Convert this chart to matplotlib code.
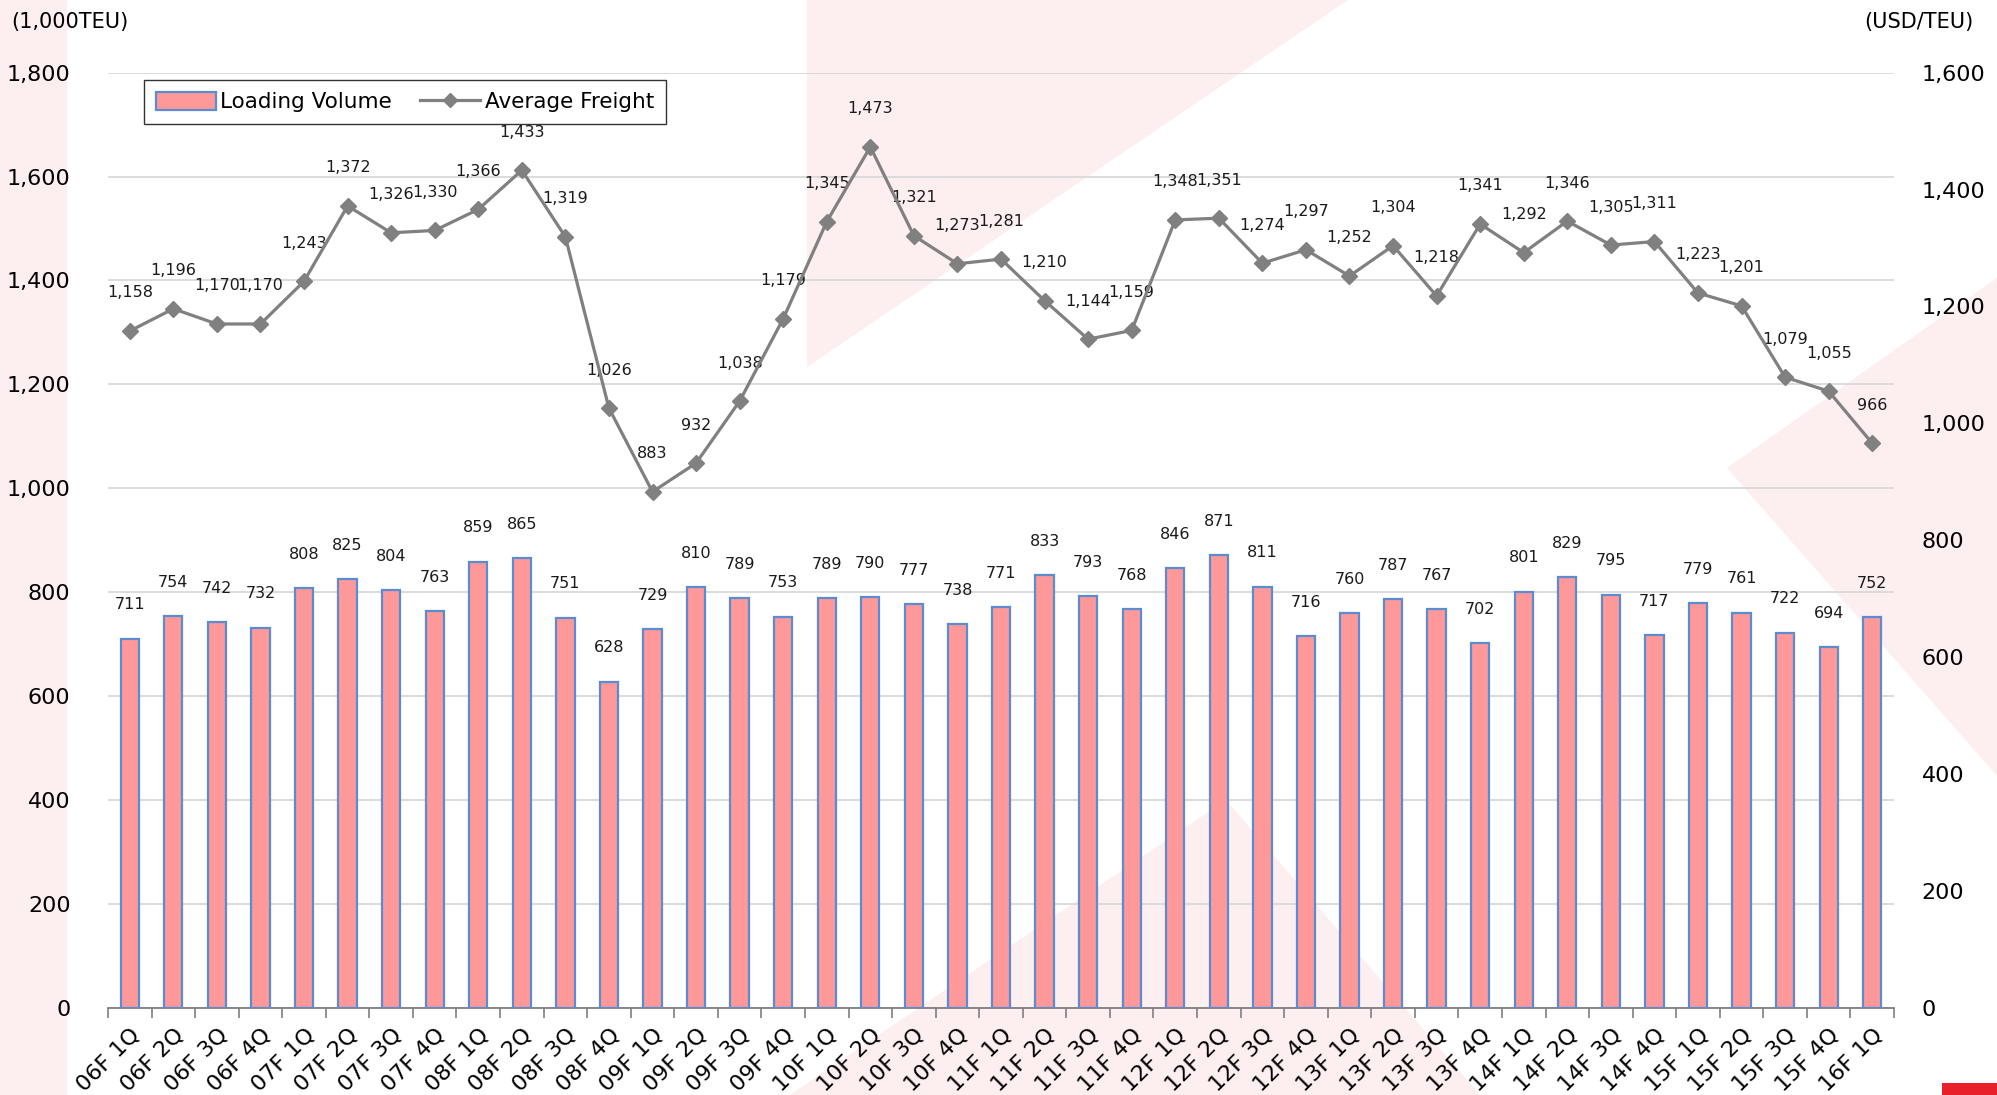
import numpy as np
import matplotlib
matplotlib.use("Agg")
import matplotlib.pyplot as plt
from matplotlib.patches import Polygon, Rectangle
from matplotlib.lines import Line2D
from matplotlib.patches import Patch

# quarters 06F 1Q .. 16F 1Q
quarters = []
for yr in range(6, 16):
    for q in range(1, 5):
        quarters.append("%02dF %dQ" % (yr, q))
quarters.append("16F 1Q")

# loading volume (1,000TEU)
volume = [711, 754, 742, 732, 808, 825, 804, 763, 859, 865, 751, 628,
          729, 810, 789, 753, 789, 790, 777, 738, 771, 833, 793, 768,
          846, 871, 811, 716, 760, 787, 767, 702, 801, 829, 795, 717,
          779, 761, 722, 694, 752]

# average freight (USD/TEU)
freight = [1158, 1196, 1170, 1170, 1243, 1372, 1326, 1330, 1366, 1433, 1319, 1026,
           883, 932, 1038, 1179, 1345, 1473, 1321, 1273, 1281, 1210, 1144, 1159,
           1348, 1351, 1274, 1297, 1252, 1304, 1218, 1341, 1292, 1346, 1305, 1311,
           1223, 1201, 1079, 1055, 966]

W, H = 1997, 1095
fig = plt.figure(figsize=(W / 100, H / 100), dpi=100)
plt.rcParams['font.family'] = ['DejaVu Sans']

# light pink decorations behind the chart (pixel coords -> figure fraction)
pink = '#FDEEF0'
def px(pts):
    return [(x / W, 1 - y / H) for x, y in pts]

shapes = [
    [(0, 0), (67, 0), (67, 1095), (0, 1095)],
    [(807, 0), (1348, 0), (807, 367)],
    [(1727, 468), (1997, 278), (1997, 776)],
    [(1226, 800), (1480, 1095), (790, 1095)],
]
for s in shapes:
    fig.patches.append(Polygon(px(s), closed=True, transform=fig.transFigure,
                               facecolor=pink, edgecolor='none', zorder=-5))
fig.patches.append(Rectangle((1942 / W, 0), (W - 1942) / W, 12 / H,
                             transform=fig.transFigure, facecolor='#E8202A',
                             edgecolor='none', zorder=-5))

ax = fig.add_axes([108 / W, 1 - 1008 / H, (1894 - 108) / W, (1008 - 72.6) / H])
ax.set_facecolor('none')
x = np.arange(len(quarters))

bar_color = '#FF9999'
edge_color = '#5B8BD0'
ax.bar(x, volume, width=0.42, color=bar_color, edgecolor=edge_color,
       linewidth=1.6, zorder=3)
for xi, v in zip(x, volume):
    ax.annotate("{:,}".format(v), (xi, v), xytext=(0, 19), textcoords='offset points',
                ha='center', va='bottom', fontsize=11.5, color='#1a1a1a', zorder=5)

ax.set_xlim(-0.5, len(quarters) - 0.5)
ax.set_ylim(0, 1800)
ax.set_yticks(np.arange(0, 1801, 200))
ax.set_yticklabels(["{:,}".format(v) for v in range(0, 1801, 200)], fontsize=16)
ax.grid(axis='y', color='#D9D9D9', linewidth=1.3, zorder=1)
ax.set_axisbelow(True)
ax.tick_params(axis='y', length=0, pad=27)

ax.set_xticks(x)
ax.set_xticklabels(quarters, rotation=45, ha='right', va='top',
                   rotation_mode='anchor', fontsize=16)
ax.tick_params(axis='x', which='major', length=0, pad=12)
ax.set_xticks(np.arange(-0.5, len(quarters)), minor=True)
ax.tick_params(axis='x', which='minor', length=7, width=1.2, color='#7f7f7f')

for side in ['left', 'right', 'top']:
    ax.spines[side].set_visible(False)
ax.spines['bottom'].set_color('#7f7f7f')
ax.spines['bottom'].set_linewidth(1.3)

ax2 = ax.twinx()
ax2.plot(x, freight, color='#808080', linewidth=2.3, marker='D', markersize=8.5,
         zorder=4)
for xi, v in zip(x, freight):
    ax2.annotate("{:,}".format(v), (xi, v), xytext=(0, 22), textcoords='offset points',
                 ha='center', va='bottom', fontsize=11.5, color='#1a1a1a')
ax2.set_ylim(0, 1600)
ax2.set_yticks(np.arange(0, 1601, 200))
ax2.set_yticklabels(["{:,}".format(v) for v in range(0, 1601, 200)], fontsize=16)
ax2.tick_params(axis='y', length=0, pad=20)
for side in ['left', 'right', 'top', 'bottom']:
    ax2.spines[side].set_visible(False)

fig.text(11 / W, 1 - 22 / H, "(1,000TEU)", fontsize=15, ha='left', va='center')
fig.text(1973 / W, 1 - 22 / H, "(USD/TEU)", fontsize=15, ha='right', va='center')

handles = [Patch(facecolor=bar_color, edgecolor=edge_color, linewidth=1.6),
           Line2D([], [], color='#808080', linewidth=2.3, marker='D', markersize=7)]
leg = fig.legend(handles, ["Loading Volume", "Average Freight"], ncol=2,
                 loc='upper left', bbox_to_anchor=(144 / W, 1 - 80 / H),
                 borderaxespad=0, fontsize=15.5, frameon=True, fancybox=False,
                 edgecolor='black', handlelength=2.8, handleheight=0.9,
                 handletextpad=0.2, columnspacing=1.3, borderpad=0.55)
leg.get_frame().set_linewidth(1.0)

fig.savefig("out.png", dpi=100)
